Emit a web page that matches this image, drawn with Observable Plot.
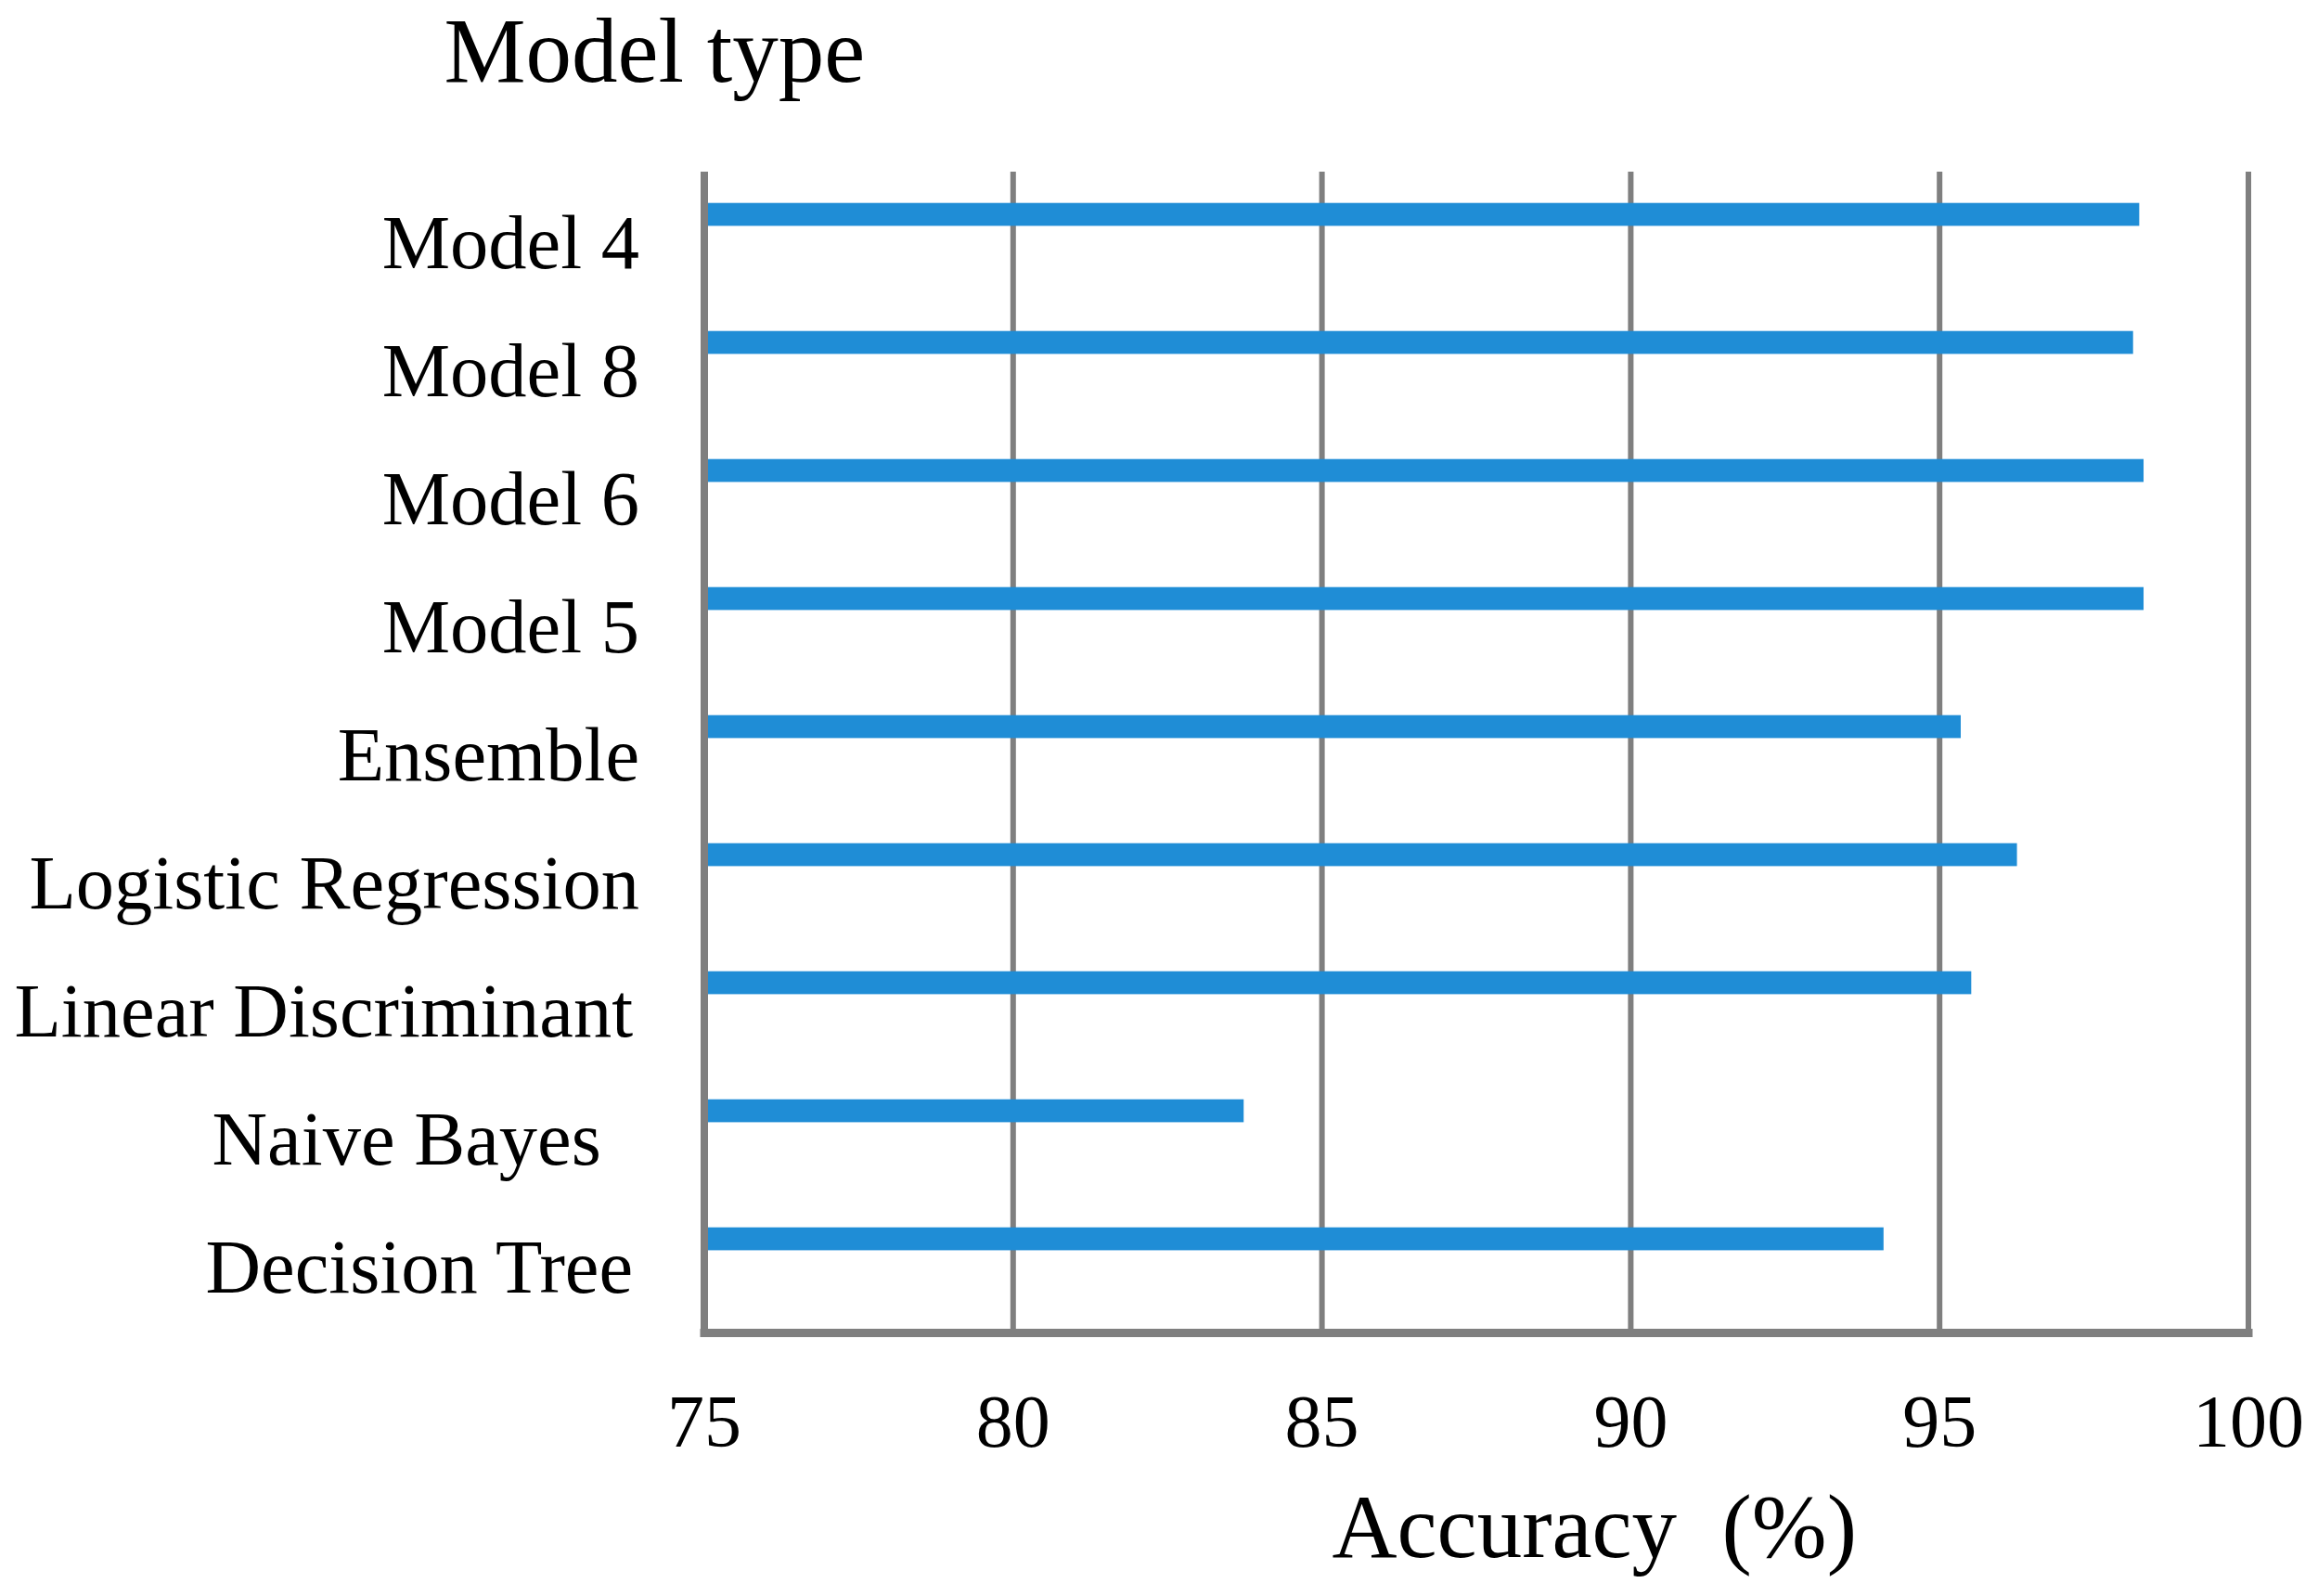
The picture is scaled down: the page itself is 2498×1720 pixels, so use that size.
<!DOCTYPE html>
<html>
<head>
<meta charset="utf-8">
<script src="https://cdn.jsdelivr.net/npm/d3@7"></script>
<script src="https://cdn.jsdelivr.net/npm/@observablehq/plot@0.6"></script>
<style>
  html, body { margin: 0; padding: 0; background: #ffffff; }
  #chart svg { display: block; }
</style>
</head>
<body>
<div id="chart"></div>
<script>
// Categories (top to bottom) and accuracy values
const models = ["Model 4", "Model 8", "Model 6", "Model 5", "Ensemble",
  "Logistic Regression", "Linear Discriminant", "Naive Bayes", "Decision Tree"];
const accuracy = [98.24, 98.14, 98.31, 98.31, 95.35, 96.26, 95.52, 83.74, 94.10];
const xTicks = [75, 80, 85, 90, 95, 100];
const yTitle = "Model type";
const xTitle = "Accuracy\u00a0\u00a0(%)";

const data = models.map((m, i) => ({model: m, acc: accuracy[i]}));
const gridColor = "#7f7f7f";
// trailing spacing of some labels as in the original figure
const trailing = {"Naive Bayes": "\u2002", "Linear Discriminant": "\u200a", "Decision Tree": "\u200a"};

const chart = Plot.plot({
  width: 2498,
  height: 1720,
  marginLeft: 758.5,
  marginRight: 75.5,
  marginTop: 185,
  marginBottom: 284,
  style: {fontFamily: "'Liberation Serif', 'Times New Roman', serif", color: "#000", background: "#fff"},
  x: {domain: [xTicks[0], xTicks[xTicks.length - 1]]},
  y: {domain: models, range: [191, 1436], padding: 0},
  marks: [
    Plot.gridX(xTicks, {stroke: gridColor, strokeOpacity: 1, strokeWidth: 6}),
    Plot.barX(data, {
      x1: () => xTicks[0], x2: "acc", y: "model",
      fill: "#1f8dd6", insetTop: 25.7, insetBottom: 87.6
    }),
    Plot.ruleX([xTicks[0]], {stroke: gridColor, strokeWidth: 8}),
    Plot.frame({anchor: "bottom", stroke: gridColor, strokeWidth: 9, strokeLinecap: "square"}),
    Plot.axisY({tickSize: 0, tickPadding: 70, fontSize: 82.5, label: null, fill: "#000",
      tickFormat: (d) => d + (trailing[d] || "")}),
    Plot.axisX(xTicks, {tickSize: 0, tickPadding: 66, fontSize: 80, label: null, fill: "#000"}),
    Plot.text([yTitle], {
      frameAnchor: "top-left", textAnchor: "start", lineAnchor: "bottom",
      dx: -280.5, dy: -98, fontSize: 99, fill: "#000"
    }),
    Plot.text([xTitle], {
      frameAnchor: "bottom-left", textAnchor: "start", lineAnchor: "bottom",
      dx: 676.5, dy: 241, fontSize: 97, fill: "#000"
    })
  ]
});
document.getElementById("chart").appendChild(chart);
</script>
</body>
</html>
